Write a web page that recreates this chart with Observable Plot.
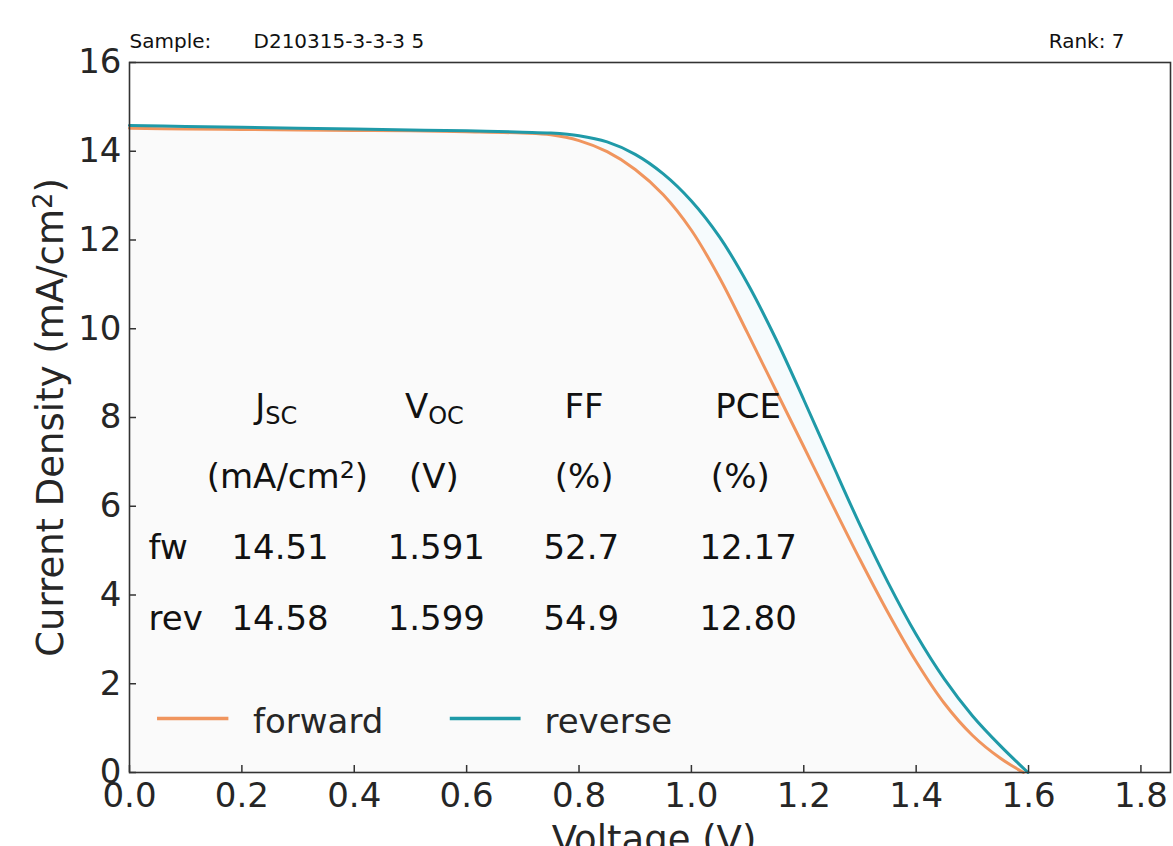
<!DOCTYPE html>
<html>
<head>
<meta charset="utf-8">
<script src="https://cdn.jsdelivr.net/npm/d3@7"></script>
<script src="https://cdn.jsdelivr.net/npm/@observablehq/plot@0.6"></script>
<style>
  html, body { margin: 0; padding: 0; background: #fff; overflow: hidden; }
  #chart svg { display: block; }
</style>
</head>
<body>
<div id="chart"></div>
<script>
// ---- data ----
const voltageFw = [0, 0.1, 0.2, 0.3, 0.4, 0.5, 0.6, 0.7, 0.75, 0.8, 0.85, 0.9, 0.95, 1.0, 1.05, 1.1, 1.15, 1.2, 1.25, 1.3, 1.35, 1.4, 1.45, 1.5, 1.55, 1.591];
const currentFw = [14.52, 14.50, 14.49, 14.48, 14.47, 14.46, 14.44, 14.41, 14.37, 14.24, 13.99, 13.59, 13.02, 12.22, 11.15, 9.90, 8.62, 7.34, 6.06, 4.80, 3.60, 2.50, 1.56, 0.84, 0.32, 0];
const voltageRev = [0, 0.1, 0.2, 0.3, 0.4, 0.5, 0.6, 0.7, 0.75, 0.8, 0.85, 0.9, 0.95, 1.0, 1.05, 1.1, 1.15, 1.2, 1.25, 1.3, 1.35, 1.4, 1.45, 1.5, 1.55, 1.599];
const currentRev = [14.58, 14.56, 14.54, 14.52, 14.50, 14.48, 14.46, 14.43, 14.41, 14.35, 14.21, 13.93, 13.49, 12.88, 12.07, 11.02, 9.78, 8.40, 6.98, 5.58, 4.28, 3.11, 2.11, 1.28, 0.60, 0];

const xTicks = [0, 0.2, 0.4, 0.6, 0.8, 1.0, 1.2, 1.4, 1.6, 1.8];
const yTicks = [0, 2, 4, 6, 8, 10, 12, 14, 16];

const seriesNames = ["forward", "reverse"];
const seriesColors = ["#f0955e", "#1f9aa8"];
const fillColors = ["#fafafa", "#f6fbfd"];

const headerSubMain = ["J", "V"];
const headerSubText = ["SC", "OC"];
const headerPlain = ["FF", "PCE"];
const unitLabels = ["(mA/cm²)", "(V)", "(%)", "(%)"];
const rowLabels = ["fw", "rev"];
const fwValues = ["14.51", "1.591", "52.7", "12.17"];
const revValues = ["14.58", "1.599", "54.9", "12.80"];

const sampleLabel = "Sample:";
const sampleName = "D210315-3-3-3 5";
const rankLabel = "Rank: 7";
const xLabel = "Voltage (V)";
const yLabel = "Current Density (mA/cm²)";

// ---- annotation placement (data units) ----
const headerSubX = [0.2415, 0.5316];
const headerPlainX = [0.809, 1.101];
const unitX = [0.281, 0.5415, 0.809, 1.087];
const valueX = [0.268, 0.546, 0.804, 1.101];
const rowLabelX = 0.034;
const headerY = 8.0, unitY = 6.42, fwY = 4.82, revY = 3.22;
const legendLineX = [[0.049, 0.176], [0.570, 0.696]];
const legendTextX = [0.2198, 0.7385];
const legendLineY = 1.216, legendTextY = 0.90;

// ---- build tables ----
const fw = voltageFw.map((v, i) => ({V: v, J: currentFw[i]}));
const rev = voltageRev.map((v, i) => ({V: v, J: currentRev[i]}));
const headerSubData = headerSubMain.map((t, i) => ({t, s: headerSubText[i], x: headerSubX[i], y: headerY}));
const headerPlainData = headerPlain.map((t, i) => ({t, x: headerPlainX[i], y: headerY}));
const unitData = unitLabels.map((t, i) => ({t, x: unitX[i], y: unitY}));
const valueData = [
  ...fwValues.map((t, i) => ({t, x: valueX[i], y: fwY})),
  ...revValues.map((t, i) => ({t, x: valueX[i], y: revY}))
];
const rowData = rowLabels.map((t, i) => ({t, x: rowLabelX, y: [fwY, revY][i]}));
const legendData = seriesNames.map((name, i) => ({
  name, color: seriesColors[i], x1: legendLineX[i][0], x2: legendLineX[i][1], y: legendLineY, tx: legendTextX[i], ty: legendTextY
}));

const W = 1173, H = 846;
const mL = 129, mR = 3, mT = 62, mB = 74;
const plotW = W - mL - mR, plotH = H - mT - mB;
const axisColor = "#333333";
const textColor = "#111111";
const FS = 34;
const CURVE = "catmull-rom";

const chart = Plot.plot({
  width: W,
  height: H,
  marginLeft: mL,
  marginRight: mR,
  marginTop: mT,
  marginBottom: mB,
  style: {fontFamily: "DejaVu Sans", background: "white", overflow: "visible"},
  x: {domain: [0, plotW / 561.9]},
  y: {domain: [0, 16]},
  marks: [
    Plot.areaY(rev, {x: "V", y: "J", fill: fillColors[1], curve: CURVE}),
    Plot.areaY(fw, {x: "V", y: "J", fill: fillColors[0], curve: CURVE}),
    Plot.line(fw, {x: "V", y: "J", stroke: seriesColors[0], strokeWidth: 3, curve: CURVE}),
    Plot.line(rev, {x: "V", y: "J", stroke: seriesColors[1], strokeWidth: 3, curve: CURVE}),
    Plot.frame({stroke: axisColor, strokeWidth: 1.6}),
    Plot.tickY(yTicks, {y: d => d, stroke: axisColor, strokeWidth: 1.5, insetRight: plotW - 7}),
    Plot.tickX(xTicks, {x: d => d, stroke: axisColor, strokeWidth: 1.5, insetTop: plotH - 7}),
    Plot.axisX({ticks: xTicks, tickSize: 0, tickPadding: 10, tickFormat: d3.format(".1f"), fontSize: FS, color: "#262626", label: null}),
    Plot.axisY({ticks: yTicks, tickSize: 0, tickPadding: 8, fontSize: FS, color: "#262626", label: null}),
    // axis titles
    Plot.text([xLabel], {frameAnchor: "bottom", dy: 79, dx: 4, lineAnchor: "bottom", fontSize: 37, fill: "#262626"}),
    Plot.text([yLabel], {frameAnchor: "left", dx: -67, rotate: -90, textAnchor: "middle", lineAnchor: "bottom", fontSize: 37, fill: "#262626"}),
    // header line
    Plot.text([sampleLabel], {frameAnchor: "top-left", dx: 0, dy: -15, textAnchor: "start", lineAnchor: "bottom", fontSize: 20, fill: textColor}),
    Plot.text([sampleName], {frameAnchor: "top-left", dx: 124, dy: -15, textAnchor: "start", lineAnchor: "bottom", fontSize: 20, fill: textColor}),
    Plot.text([rankLabel], {frameAnchor: "top-right", dx: -46, dy: -15, textAnchor: "end", lineAnchor: "bottom", fontSize: 20, fill: textColor}),
    // table
    Plot.text(headerSubData, {x: "x", y: "y", text: "t", textAnchor: "end", lineAnchor: "bottom", fontSize: FS, fill: textColor}),
    Plot.text(headerSubData, {x: "x", y: "y", text: "s", textAnchor: "start", lineAnchor: "bottom", dy: 6, fontSize: 24, fill: textColor}),
    Plot.text(headerPlainData, {x: "x", y: "y", text: "t", textAnchor: "middle", lineAnchor: "bottom", fontSize: FS, fill: textColor}),
    Plot.text(unitData, {x: "x", y: "y", text: "t", textAnchor: "middle", lineAnchor: "bottom", fontSize: FS, fill: textColor}),
    Plot.text(valueData, {x: "x", y: "y", text: "t", textAnchor: "middle", lineAnchor: "bottom", fontSize: FS, fill: textColor}),
    Plot.text(rowData, {x: "x", y: "y", text: "t", textAnchor: "start", lineAnchor: "bottom", fontSize: FS, fill: textColor}),
    // legend
    Plot.link(legendData, {x1: "x1", x2: "x2", y1: "y", y2: "y", stroke: "color", strokeWidth: 3.5}),
    Plot.text(legendData, {x: "tx", y: "ty", text: "name", textAnchor: "start", lineAnchor: "bottom", fontSize: FS, fill: "#262626"})
  ]
});

// render "²" as a raised, smaller "2" (like a mathtext superscript)
chart.querySelectorAll("text").forEach(node => {
  const s = node.textContent;
  if (!s.includes("²") || node.children.length) return;
  const [before, after] = s.split("²");
  node.textContent = "";
  const ns = "http://www.w3.org/2000/svg";
  node.appendChild(document.createTextNode(before));
  const sup = document.createElementNS(ns, "tspan");
  sup.setAttribute("dy", "-0.42em");
  sup.setAttribute("font-size", "0.7em");
  sup.textContent = "2";
  node.appendChild(sup);
  const rest = document.createElementNS(ns, "tspan");
  rest.setAttribute("dy", "0.294em");
  rest.textContent = after;
  node.appendChild(rest);
});

document.getElementById("chart").appendChild(chart);
</script>
</body>
</html>
